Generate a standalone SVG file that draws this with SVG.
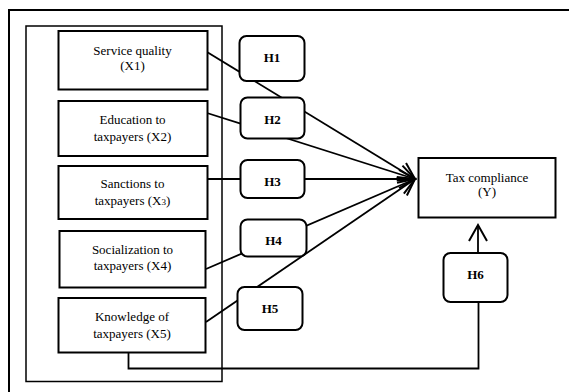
<svg xmlns="http://www.w3.org/2000/svg" width="569" height="392" viewBox="0 0 569 392">
  <style>
    .frame { fill: none; stroke: #000; }
    .box { fill: #fff; stroke: #000; stroke-width: 2; }
    .hbox { fill: #fff; stroke: #000; stroke-width: 2; }
    .lbl { font-family: "Liberation Serif", "Times New Roman", serif; font-size: 13px; fill: #000; text-anchor: middle; }
    .hl { font-family: "Liberation Serif", "Times New Roman", serif; font-size: 13px; font-weight: bold; fill: #000; text-anchor: middle; }
    .conn { fill: none; stroke: #000; stroke-width: 1.8; }
  </style>
  <defs>
    <marker id="arr" markerUnits="userSpaceOnUse" markerWidth="22" markerHeight="22" viewBox="0 0 22 22" refX="18" refY="11" orient="auto">
      <path d="M2,2 L18,11 L2,20" fill="none" stroke="#000" stroke-width="2"/>
    </marker>
  </defs>
  <rect width="569" height="392" fill="#fff"/>
  <g id="outer-frame">
    <rect class="frame" x="9" y="10" width="620" height="420" stroke-width="2"/>
  </g>
  <g id="independent-group">
    <rect class="frame" x="26" y="26" width="196" height="355.5" stroke-width="1.5"/>
  </g>
  <g id="connectors">
    <line class="conn" x1="207" y1="52" x2="415" y2="179" marker-end="url(#arr)"/>
    <line class="conn" x1="207" y1="113" x2="415" y2="179" marker-end="url(#arr)"/>
    <line class="conn" x1="207" y1="179" x2="415" y2="179" marker-end="url(#arr)"/>
    <line class="conn" x1="206" y1="269" x2="415" y2="179" marker-end="url(#arr)"/>
    <line class="conn" x1="206" y1="322" x2="415" y2="179" marker-end="url(#arr)"/>
    <polyline class="conn" points="128.5,352 128.5,368.5 478.5,368.5 478.5,302"/>
    <line class="conn" x1="478" y1="253" x2="478" y2="225" marker-end="url(#arr)"/>
  </g>
  <g id="x1">
    <rect class="box" x="58.5" y="31" width="149" height="58.5"/>
    <text class="lbl" x="132.5" y="55">Service quality</text>
    <text class="lbl" x="132.5" y="70">(X1)</text>
  </g>
  <g id="x2">
    <rect class="box" x="58.5" y="101" width="149" height="55"/>
    <text class="lbl" x="132.5" y="124">Education to</text>
    <text class="lbl" x="132.5" y="141">taxpayers (X2)</text>
  </g>
  <g id="x3">
    <rect class="box" x="58.5" y="166" width="149" height="53"/>
    <text class="lbl" x="132.5" y="188">Sanctions to</text>
    <text class="lbl" x="132.5" y="205">taxpayers (X<tspan font-size="9">3</tspan>)</text>
  </g>
  <g id="x4">
    <rect class="box" x="59.5" y="231" width="146" height="56.5"/>
    <text class="lbl" x="132.5" y="254">Socialization to</text>
    <text class="lbl" x="132.5" y="270">taxpayers (X4)</text>
  </g>
  <g id="x5">
    <rect class="box" x="58.5" y="298" width="147" height="54.5"/>
    <text class="lbl" x="132" y="321">Knowledge of</text>
    <text class="lbl" x="132" y="338">taxpayers (X5)</text>
  </g>
  <g id="h1">
    <rect class="hbox" x="239.5" y="36" width="65" height="45" rx="7"/>
    <text class="hl" x="272" y="62">H1</text>
  </g>
  <g id="h2">
    <rect class="hbox" x="240.5" y="97.5" width="64" height="41" rx="7"/>
    <text class="hl" x="272.5" y="124">H2</text>
  </g>
  <g id="h3">
    <rect class="hbox" x="240.5" y="160" width="64" height="38" rx="7"/>
    <text class="hl" x="272.5" y="185.5">H3</text>
  </g>
  <g id="h4">
    <rect class="hbox" x="240.5" y="219.5" width="66" height="37" rx="7"/>
    <text class="hl" x="273.5" y="245">H4</text>
  </g>
  <g id="h5">
    <rect class="hbox" x="237.5" y="287" width="65" height="43" rx="7"/>
    <text class="hl" x="270" y="312.5">H5</text>
  </g>
  <g id="h6">
    <rect class="hbox" x="443.5" y="253" width="64" height="49" rx="7"/>
    <text class="hl" x="475.5" y="279">H6</text>
  </g>
  <g id="y">
    <rect class="box" x="418.5" y="158" width="137" height="59.5"/>
    <text class="lbl" x="487" y="182">Tax compliance</text>
    <text class="lbl" x="487" y="196">(Y)</text>
  </g>
</svg>
